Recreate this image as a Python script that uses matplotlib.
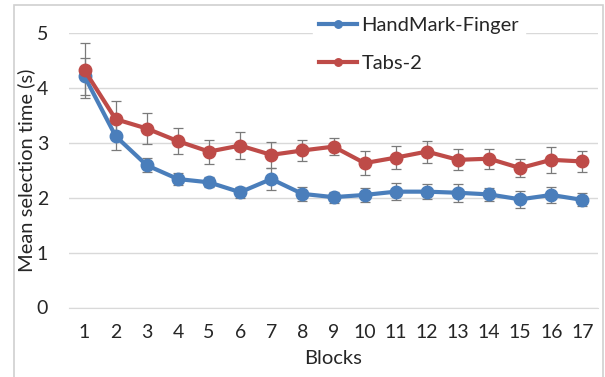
import matplotlib
matplotlib.use("Agg")
import matplotlib.pyplot as plt
from matplotlib.patches import Rectangle

plt.rcParams["font.family"] = ["Lato", "DejaVu Sans"]

# ---------------- data ----------------
blocks = list(range(1, 18))
handmark = [4.21, 3.12, 2.59, 2.34, 2.28, 2.10, 2.34, 2.07, 2.01, 2.05,
            2.11, 2.11, 2.09, 2.06, 1.97, 2.05, 1.96]
handmark_err = [0.34, 0.25, 0.13, 0.11, 0.09, 0.10, 0.20, 0.13, 0.10, 0.12,
                0.15, 0.14, 0.16, 0.12, 0.15, 0.14, 0.12]
tabs2 = [4.32, 3.43, 3.26, 3.03, 2.84, 2.95, 2.78, 2.86, 2.93, 2.63,
         2.73, 2.84, 2.69, 2.71, 2.54, 2.69, 2.66]
tabs2_err = [0.50, 0.33, 0.29, 0.24, 0.22, 0.24, 0.24, 0.20, 0.16, 0.22,
             0.21, 0.20, 0.19, 0.18, 0.17, 0.24, 0.19]

blue = "#4a7ebb"
red = "#be4b48"
grid_c = "#d9d9d9"
text_c = "#262626"

fig = plt.figure(figsize=(6.05, 3.77), dpi=100)
ax = fig.add_axes([69 / 605, 1 - 307.5 / 377, (598 - 69) / 605, (307.5 - 33) / 377])

# chart border (Excel style)
fig.patches.append(Rectangle((14 / 605, -0.02), (603 - 14) / 605, 1 - 5 / 377 + 0.02,
                             transform=fig.transFigure, fill=False,
                             edgecolor="#d0d0d0", lw=1.2, zorder=0))

for ys, err, col, lab in [(handmark, handmark_err, blue, "HandMark-Finger"),
                          (tabs2, tabs2_err, red, "Tabs-2")]:
    ax.errorbar(blocks, ys, yerr=err, fmt="none", ecolor="#7a7a7a",
                elinewidth=0.9, capsize=3.5, capthick=0.9, zorder=2)
    ax.plot(blocks, ys, "-o", color=col, lw=3, ms=9, label=lab, zorder=3)

ax.set_xlim(0.5, 17.5)
ax.set_ylim(0, 5)
ax.set_xticks(blocks)
ax.set_yticks(range(0, 6))
ax.grid(axis="y", color=grid_c, lw=1)
ax.set_axisbelow(True)
for s in ["top", "right", "left"]:
    ax.spines[s].set_visible(False)
ax.spines["bottom"].set_color(grid_c)
ax.tick_params(length=0, labelsize=14, labelcolor=text_c)
ax.tick_params(axis="x", pad=12)
ax.tick_params(axis="y", pad=15)

ax.set_xlabel("Blocks", fontsize=14.5, color=text_c, labelpad=6)
ax.set_ylabel("Mean selection time (s)", fontsize=14.5, color=text_c, labelpad=1)

leg = ax.legend(loc="upper left", bbox_to_anchor=(303 / 605, 1 - 1 / 377),
                bbox_transform=fig.transFigure, frameon=True, fancybox=False,
                edgecolor="white", framealpha=1, fontsize=14.5, markerscale=0.6,
                handlelength=1.9, handletextpad=0.2, labelspacing=1.05,
                borderpad=0.3, labelcolor=text_c)
leg.set_zorder(5)

fig.savefig("out.png", dpi=100)
